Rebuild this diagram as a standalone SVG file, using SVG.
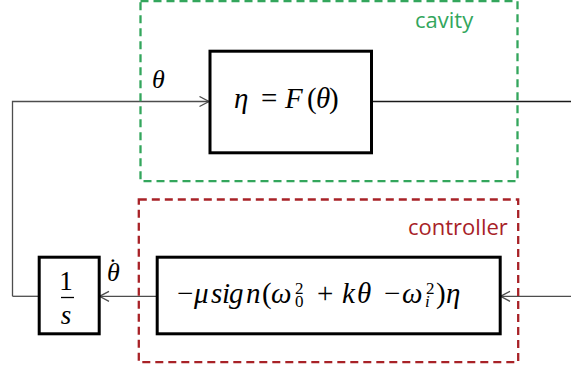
<svg xmlns="http://www.w3.org/2000/svg" width="571" height="371" viewBox="0 0 571 371">
<style>
.bg{fill:#ffffff}
.region{fill:none;stroke-width:2.3;stroke-dasharray:8 5}
.green{stroke:#33a65c}
.red{stroke:#a82227}
.block{fill:#ffffff;stroke:#000000;stroke-width:3}
.wire{fill:none;stroke:#4d4d4d;stroke-width:1.3}
.lbl{font-family:"Open Sans","Liberation Sans",sans-serif;font-size:22px}
.m{font-family:"Liberation Serif","DejaVu Serif",serif;font-size:29px;fill:#000}
.it{font-style:italic}
.sc{font-size:17px}
</style>
<defs>
<marker id="arr" viewBox="0 0 12 12" markerWidth="12" markerHeight="12" refX="10" refY="6" orient="auto" markerUnits="userSpaceOnUse">
<path d="M0.5,1 L10,6 L0.5,11" fill="none" stroke="#4d4d4d" stroke-width="1.3"/>
</marker>
</defs>
<rect class="bg" x="0" y="0" width="571" height="371"/>

<g id="connectors">
<path class="wire" d="M12.5,296.3 L12.5,101.5 L209,101.5" marker-end="url(#arr)"/>
<path class="wire" d="M39,296.3 L12.5,296.3"/>
<path class="wire" d="M372,101.5 L571,101.5" style="stroke:#1a1a1a"/>
<path class="wire" d="M571,296.3 L500.5,296.3" marker-end="url(#arr)"/>
<path class="wire" d="M157,296.3 L99.5,296.3" marker-end="url(#arr)"/>
</g>

<g id="cavity">
<rect class="region green" x="140.5" y="1.2" width="377" height="180"/>
<text class="lbl" x="415" y="28" fill="#33a65c">cavity</text>
</g>

<g id="controller">
<rect class="region red" x="138.8" y="199.5" width="379.4" height="162.7"/>
<text class="lbl" x="408" y="235" fill="#a82227">controller</text>
</g>

<g id="node-F">
<rect class="block" x="210" y="51.2" width="161.5" height="101.6"/>
<text class="m" y="108"><tspan class="it" x="234">η</tspan><tspan x="261">=</tspan><tspan class="it" x="285">F</tspan><tspan x="307">(</tspan><tspan class="it" x="316">θ</tspan><tspan x="329">)</tspan></text>
</g>

<g id="node-control">
<rect class="block" x="157.2" y="257.2" width="343" height="76.6"/>
<text class="m" y="303"><tspan x="177">−</tspan><tspan class="it" x="194">μ</tspan><tspan class="it" x="211">s</tspan><tspan class="it" x="222">i</tspan><tspan class="it" x="229">g</tspan><tspan class="it" x="246">n</tspan><tspan x="262">(</tspan><tspan class="it" x="271">ω</tspan><tspan class="sc" x="295" y="294">2</tspan><tspan class="sc" x="295" y="307">0</tspan><tspan x="317" y="303">+</tspan><tspan class="it" x="342">k</tspan><tspan class="it" x="357">θ</tspan><tspan x="384">−</tspan><tspan class="it" x="402">ω</tspan><tspan class="sc" x="426" y="294">2</tspan><tspan class="sc it" x="425" y="307">i</tspan><tspan x="436" y="303">)</tspan><tspan class="it" x="446">η</tspan></text>
</g>

<g id="node-integrator">
<rect class="block" x="39.2" y="257.2" width="60" height="76.6"/>
<text class="m" x="66" y="290" text-anchor="middle" style="font-size:27px">1</text>
<line x1="61" y1="297.5" x2="74" y2="297.5" stroke="#000" stroke-width="1.3"/>
<text class="m it" x="66" y="324" text-anchor="middle" style="font-size:27px">s</text>
</g>

<g id="labels">
<text class="m it" x="152" y="88" style="font-size:26px">θ</text>
<text class="m" style="font-size:26px"><tspan class="it" x="107" y="281">θ</tspan><tspan x="108.5" y="276">˙</tspan></text>
</g>
</svg>
